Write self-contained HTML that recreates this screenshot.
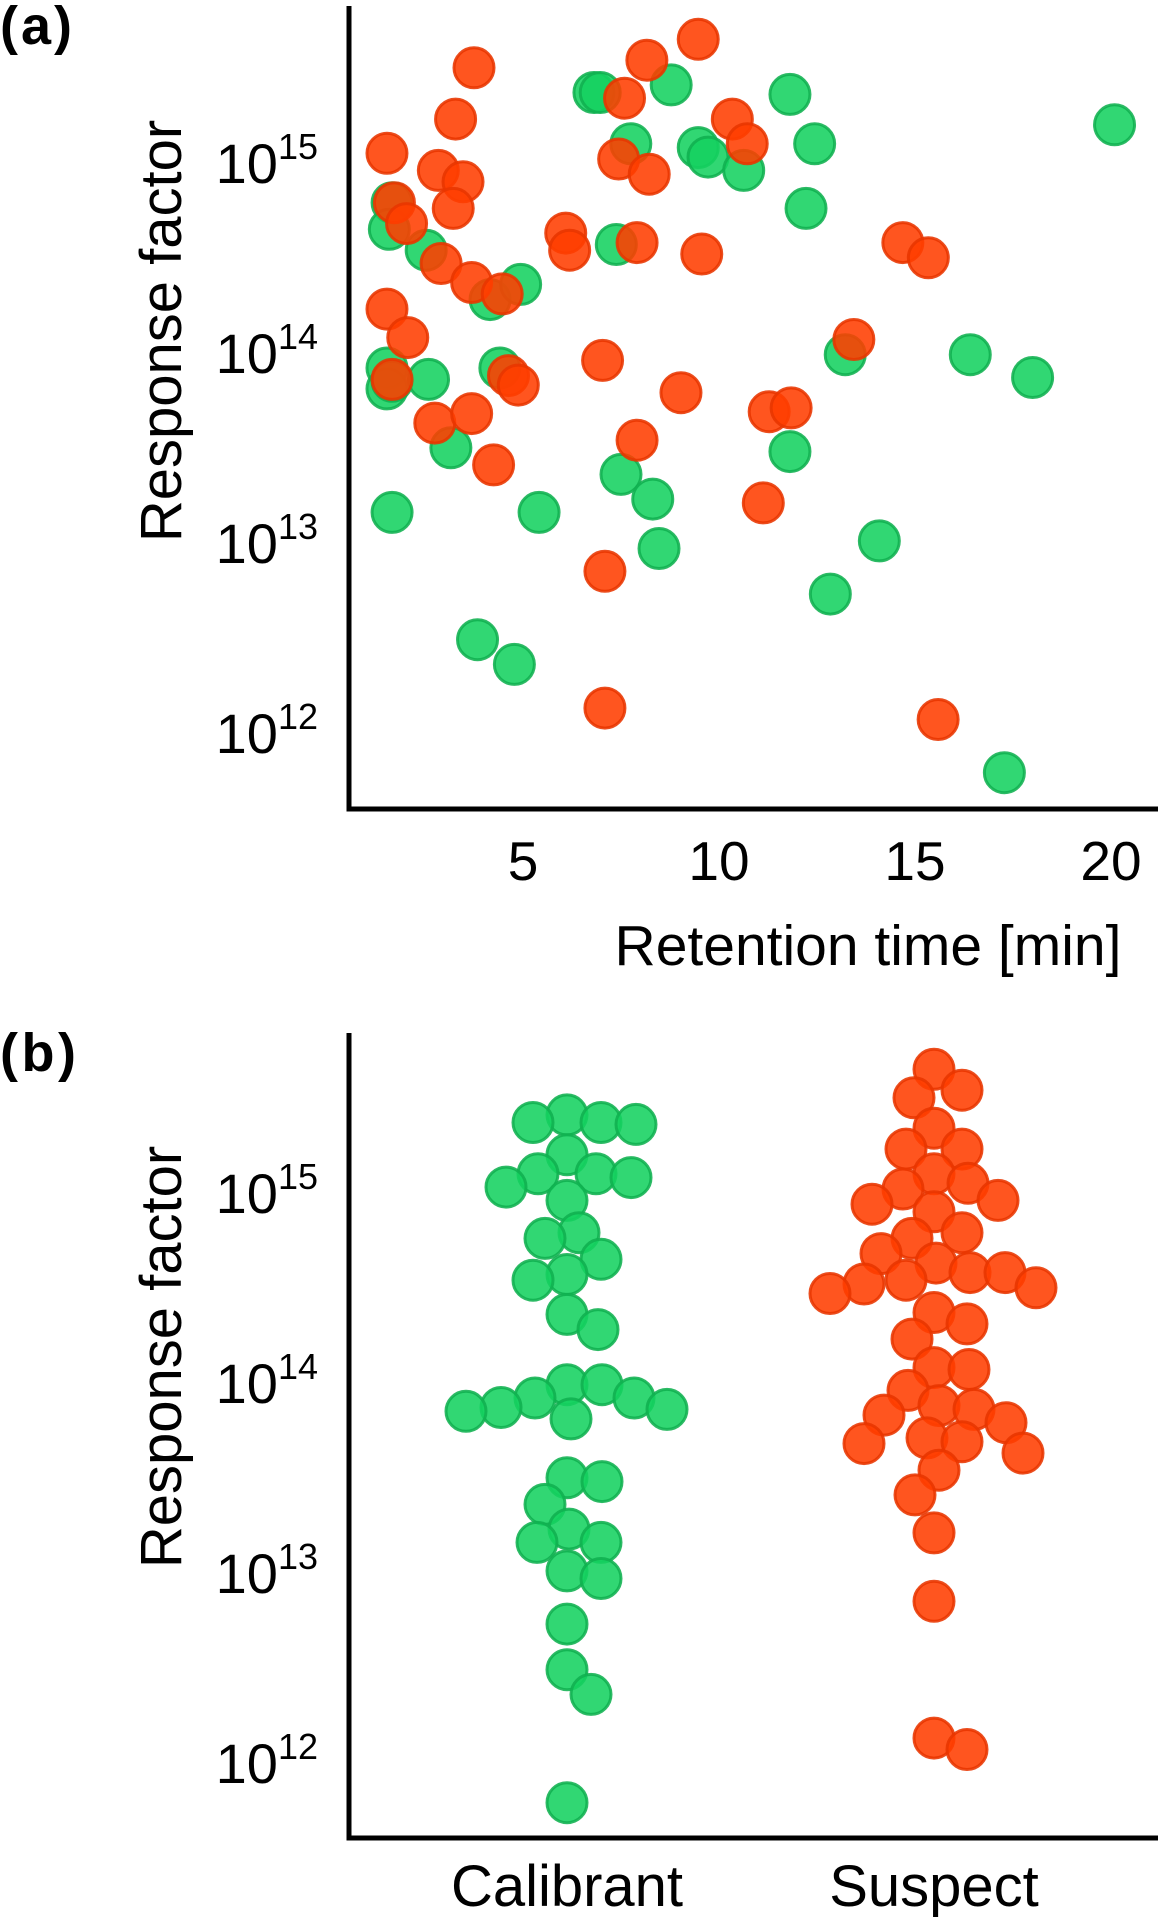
<!DOCTYPE html>
<html><head><meta charset="utf-8"><style>
html,body{margin:0;padding:0;background:#fff}
svg{display:block;font-family:"Liberation Sans",sans-serif}
</style></head><body>
<svg id="chart" width="1158" height="1917" viewBox="0 0 1158 1917" xmlns="http://www.w3.org/2000/svg">
<text x="0" y="44" font-size="54" font-weight="bold" textLength="72">(a)</text>
<text x="0" y="1071" font-size="54" font-weight="bold" textLength="76">(b)</text>
<g id="pa"></g>
<g id="pb"></g>
</svg>
<script>
const calMin=[1.66,1.59,1.53,1.53,1.66,2.59,2.53,3.16,1.66,3.84,4.78,4.16,4.94,4.41,5.41,6.81,6.97,7.38,7.50,8.31,8.47,7.75,8.78,9.47,9.72,10.63,11.81,12.44,12.22,11.81,12.84,13.22,14.09,16.41,18.0,17.28,20.09];
const calLog=[14.77,14.63,13.90,13.79,13.83,13.84,14.52,13.48,13.14,12.47,12.34,14.26,14.34,13.90,13.14,15.35,15.35,14.55,13.34,13.21,12.95,15.08,15.39,15.06,15.01,14.94,15.34,15.08,14.74,13.46,12.71,13.97,12.99,13.97,13.85,11.77,15.18];
const susMin=[1.53,1.72,2.03,2.84,3.28,3.75,3.47,3.22,2.91,3.69,4.47,1.53,2.06,1.66,2.75,3.69,4.25,4.63,4.88,6.09,6.19,7.03,7.09,7.09,7.44,7.59,8.16,8.22,7.91,7.91,9.03,9.47,9.56,10.34,10.72,11.13,11.28,11.84,13.44,14.69,15.34,15.59];
const susLog=[15.03,14.77,14.66,14.94,15.21,15.48,14.88,14.74,14.45,14.35,14.29,14.21,14.06,13.84,13.61,13.66,13.39,13.86,13.81,14.61,14.52,13.94,12.83,12.11,15.00,15.32,15.52,14.92,14.56,13.52,13.77,15.63,14.50,15.21,15.08,13.19,13.67,13.69,14.05,14.56,14.48,12.05];
const xTicks=[5,10,15,20];
const yTicks=[15,14,13,12];
const categories=["Calibrant","Suspect"];

const NS="http://www.w3.org/2000/svg";
const GREEN="#14d160",GSTROKE="#10b050",RED="#ff3d00",RSTROKE="#e83500";
const R=20;
function mk(tag,attrs,parent){const e=document.createElementNS(NS,tag);for(const k in attrs)e.setAttribute(k,attrs[k]);parent.appendChild(e);return e;}
const xA=m=>327+m*39.2;
const yA=l=>159+(15-l)*190;
const yB=l=>1189+(15-l)*190;
const catX=i=>567+i*367;

function yLabels(g,yf,prefix){
  yTicks.forEach(t=>{
    const tx=mk('text',{x:318,y:yf(t)+24,'font-size':56,'text-anchor':'end'},g);
    
    
    const a=document.createElementNS(NS,'tspan');a.textContent='10';tx.appendChild(a);
    const b=document.createElementNS(NS,'tspan');b.setAttribute('dy','-24');b.setAttribute('font-size','36');b.textContent=String(t);tx.appendChild(b);
  });
}
function dot(g,cx,cy,green,name){
  const c=mk('circle',{cx:cx,cy:cy,r:R,fill:green?GREEN:RED,stroke:green?GSTROKE:RSTROKE,'stroke-width':3,'fill-opacity':0.88,'stroke-opacity':0.88},g);
  
  
}
// Panel A
const pa=document.getElementById('pa');
calMin.forEach((m,i)=>dot(pa,xA(m),yA(calLog[i]),true,'calibrant-point'));
susMin.forEach((m,i)=>dot(pa,xA(m),yA(susLog[i]),false,'suspect-point'));
let ax=mk('path',{d:'M349 6 V809 H1158',fill:'none',stroke:'#000','stroke-width':5},pa);


xTicks.forEach(t=>{const e=mk('text',{x:xA(t),y:880,'font-size':55,'text-anchor':'middle'},pa);e.textContent=t;
  
  });
yLabels(pa,yA,'panel-a');
let t1=mk('text',{x:868,y:965,'font-size':57,'text-anchor':'middle'},pa);t1.textContent='Retention time [min]';


let t2=mk('text',{x:0,y:0,'font-size':58,'text-anchor':'middle',transform:'translate(181,331) rotate(-90)'},pa);t2.textContent='Response factor';



// Panel B beeswarm
const pb=document.getElementById('pb');
function swarm(vals,ci,green){
  const pts=vals.map(v=>({y:yB(v)})).sort((a,b)=>a.y-b.y);
  const placed=[];const sp=2*R*0.86;
  pts.forEach(p=>{
    for(let k=0;k<500;k++){
      const off=(k%2?1:-1)*Math.ceil(k/2);
      const x=catX(ci)+off;
      if(placed.every(q=>(q.x-x)**2+(q.y-p.y)**2>=sp*sp)){p.x=x;break;}
    }
    placed.push(p);
  });
  placed.forEach(p=>dot(pb,p.x,p.y,green,green?'calibrant-swarm-point':'suspect-swarm-point'));
}
swarm(calLog,0,true);
swarm(susLog,1,false);
let bx=mk('path',{d:'M349 1033 V1838 H1158',fill:'none',stroke:'#000','stroke-width':5},pb);


yLabels(pb,yB,'panel-b');
categories.forEach((c,i)=>{const e=mk('text',{x:catX(i),y:1906,'font-size':58,'text-anchor':'middle'},pb);e.textContent=c;
  
  });
let t3=mk('text',{x:0,y:0,'font-size':58,'text-anchor':'middle',transform:'translate(181,1357) rotate(-90)'},pb);t3.textContent='Response factor';


</script>
</body></html>
